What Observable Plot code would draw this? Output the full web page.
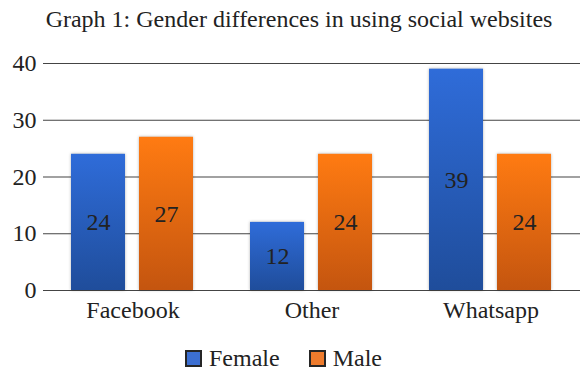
<!DOCTYPE html>
<html><head><meta charset="utf-8">
<script src="https://cdn.jsdelivr.net/npm/d3@7"></script>
<script src="https://cdn.jsdelivr.net/npm/@observablehq/plot@0.6"></script>
<style>
body{margin:0;background:#fff;font-family:'Liberation Serif',serif;color:#222;}
#wrap{width:581px;height:371px;}
.title{font-size:24px;line-height:30px;padding-top:4px;height:30px;text-align:center;padding-left:17px;white-space:nowrap;font-family:'Liberation Serif',serif;}
.legend{display:flex;justify-content:center;align-items:center;gap:29px;padding-top:10px;padding-right:14px;font-size:24px;line-height:26px;height:26px;font-family:'Liberation Serif',serif;}
.item{display:flex;align-items:center;gap:7px;}
.sw{width:13px;height:13px;border:2px solid #262626;}
svg text{font-family:'Liberation Serif',serif !important;}
</style>
</head><body>
<div id="wrap">
  <div class="title">Graph 1: Gender differences in using social websites</div>
  <div id="chart"></div>
  <div class="legend" id="legend"></div>
</div>
<script>
const categories = ["Facebook", "Other", "Whatsapp"];
const series = ["Female", "Male"];
const female = [24, 12, 39];
const male = [27, 24, 24];
const yTicks = [0, 10, 20, 30, 40];

const colors = {Female: ["#2f6cd9", "#1f4d9b"], Male: ["#ff7b12", "#c4550f"]};
const swatch = {Female: "#3c6fd2", Male: "#ee7b2c"};
const serifFont = "Liberation Serif, serif";

const rows = [];
categories.forEach((c, i) => {
  rows.push({category: c, gender: "Female", value: female[i]});
  rows.push({category: c, gender: "Male", value: male[i]});
});

const chart = Plot.plot({
  width: 581,
  height: 301,
  marginLeft: 42,
  marginRight: 0,
  marginTop: 29,
  marginBottom: 45,
  style: {fontFamily: serifFont, fontSize: "24px", color: "#222", background: "#fff", overflow: "visible"},
  fx: {domain: categories, padding: 0, label: null, tickSize: 0, tickPadding: 10, axis: "bottom"},
  x: {domain: series, paddingInner: 0.203, paddingOuter: 0.406, axis: null},
  y: {domain: [0, 40], ticks: yTicks, tickSize: 0, tickPadding: 7, label: null},
  marks: [
    Plot.ruleY(yTicks, {stroke: "#444", strokeWidth: 1.2}),
    ...series.map(s => Plot.barY(rows.filter(d => d.gender === s), {
      x: "gender", y: "value", fx: "category", fill: `url(#grad-${s})`
    })),
    Plot.text(rows, {x: "gender", fx: "category", y: d => d.value / 2, text: d => String(d.value), fontSize: 24, fill: "#222"})
  ]
});

const defs = d3.select(chart).insert("defs", ":first-child");
series.forEach(s => {
  const g = defs.append("linearGradient").attr("id", `grad-${s}`).attr("x1", 0).attr("y1", 0).attr("x2", 0).attr("y2", 1);
  g.append("stop").attr("offset", "0%").attr("stop-color", colors[s][0]);
  g.append("stop").attr("offset", "100%").attr("stop-color", colors[s][1]);
});
d3.select(chart).selectAll("g[aria-label='bar'] rect").attr("style", "filter: drop-shadow(0 0 1.5px rgba(0,0,0,0.3))");

document.getElementById("chart").appendChild(chart);

const legend = d3.select("#legend");
series.forEach(s => {
  const it = legend.append("div").attr("class", "item");
  it.append("div").attr("class", "sw").style("background", swatch[s]);
  it.append("span").text(s);
});
</script>
</body></html>
